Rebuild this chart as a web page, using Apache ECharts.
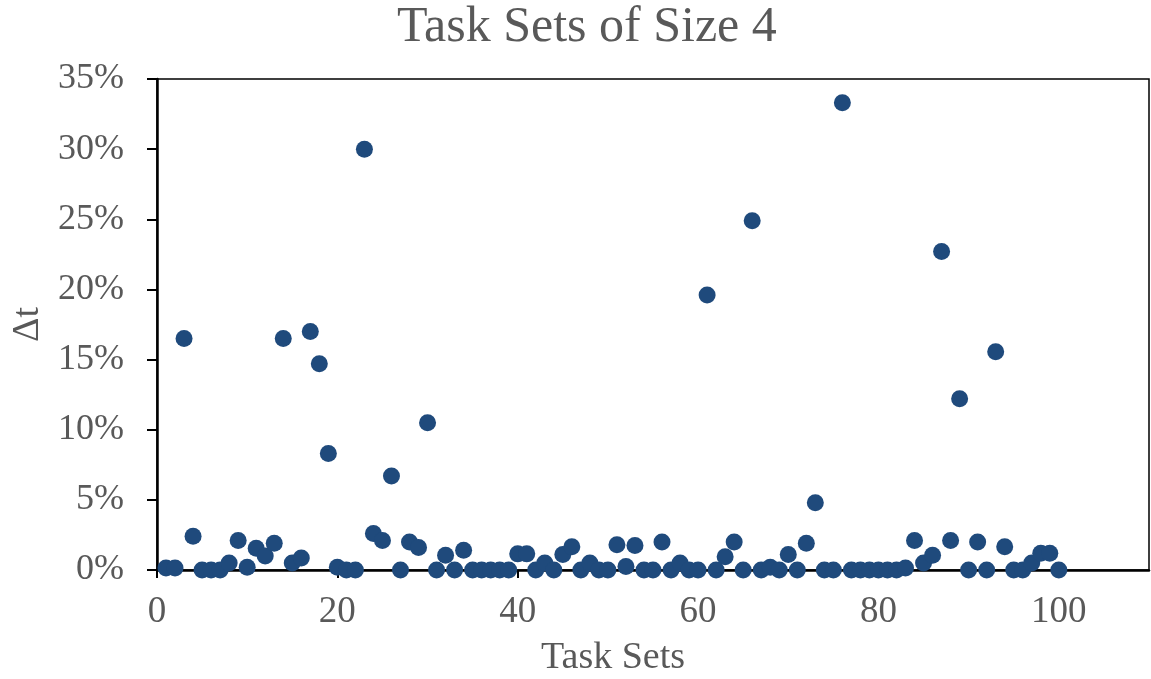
<!DOCTYPE html>
<html>
<head>
<meta charset="utf-8">
<script src="https://cdn.jsdelivr.net/npm/echarts@6/dist/echarts.min.js"></script>
<style>html,body{margin:0;padding:0;background:#fff}#c{width:1151px;height:679px}</style>
</head>
<body>
<div id="c"></div>
<script>
const taskSets = [];
for (let i = 1; i <= 100; i++) taskSets.push(i);
// Δt values in percent, task sets 1..100
const deltaT = [
  0.15, 0.15, 16.5, 2.4, 0, 0, 0, 0.5, 2.1, 0.2,
  1.55, 1.0, 1.9, 16.5, 0.5, 0.85, 17.0, 14.7, 8.3, 0.2,
  0, 0, 30.0, 2.6, 2.1, 6.7, 0, 2.0, 1.6, 10.5,
  0, 1.05, 0, 1.4, 0, 0, 0, 0, 0, 1.15,
  1.15, 0, 0.5, 0, 1.1, 1.65, 0, 0.5, 0, 0,
  1.8, 0.25, 1.75, 0, 0, 2.0, 0, 0.5, 0, 0,
  19.6, 0, 0.95, 2.0, 0, 24.9, 0, 0.2, 0, 1.1,
  0, 1.9, 4.8, 0, 0, 33.3, 0, 0, 0, 0,
  0, 0, 0.15, 2.1, 0.5, 1.05, 22.7, 2.1, 12.2, 0,
  2.0, 0, 15.55, 1.65, 0, 0, 0.5, 1.2, 1.2, 0
];
const titleText = 'Task Sets of Size 4';
const xName = 'Task Sets';
const yName = 'Δt';

const FONT = '"Liberation Serif", "Times New Roman", serif';
const GRAY = '#595959';
const chart = echarts.init(document.getElementById('c'));
chart.setOption({
  animation: false,
  backgroundColor: '#fff',
  title: [
    { text: titleText, left: 392, top: -2,
      textStyle: { fontFamily: FONT, fontSize: 50, fontWeight: 'normal', color: GRAY } },
    { text: xName, left: 536, top: 634,
      textStyle: { fontFamily: FONT, fontSize: 38, fontWeight: 'normal', color: GRAY } }
  ],
  grid: { left: 157, right: 2, top: 79, bottom: 109, show: true, borderColor: '#000', borderWidth: 1.5, backgroundColor: 'transparent' },
  xAxis: {
    type: 'value', min: 0, max: 110, interval: 20,
    axisLine: { show: true, lineStyle: { color: '#000', width: 2.5 } },
    axisTick: { show: true, inside: false, length: 8, lineStyle: { color: '#000', width: 2 } },
    axisLabel: { fontFamily: FONT, fontSize: 37, color: GRAY, margin: 24,
      showMaxLabel: false,
      formatter: v => (v > 100 ? '' : String(v)) },
    splitLine: { show: false }
  },
  yAxis: {
    type: 'value', min: 0, max: 35, interval: 5,
    name: yName, nameLocation: 'middle', nameGap: 104, nameRotate: 90,
    nameTextStyle: { fontFamily: FONT, fontSize: 38, color: GRAY },
    axisLine: { show: true, lineStyle: { color: '#000', width: 2.5 } },
    axisTick: { show: true, inside: false, length: 10, lineStyle: { color: '#000', width: 2 } },
    axisLabel: { fontFamily: FONT, fontSize: 36, color: GRAY, margin: 33, formatter: v => v + '%' },
    splitLine: { show: false }
  },
  series: [{
    type: 'scatter',
    data: taskSets.map((x, i) => [x, deltaT[i]]),
    symbol: 'circle', symbolSize: 17,
    itemStyle: { color: '#1f4a7c', opacity: 1 }
  }]
});
</script>
</body>
</html>
